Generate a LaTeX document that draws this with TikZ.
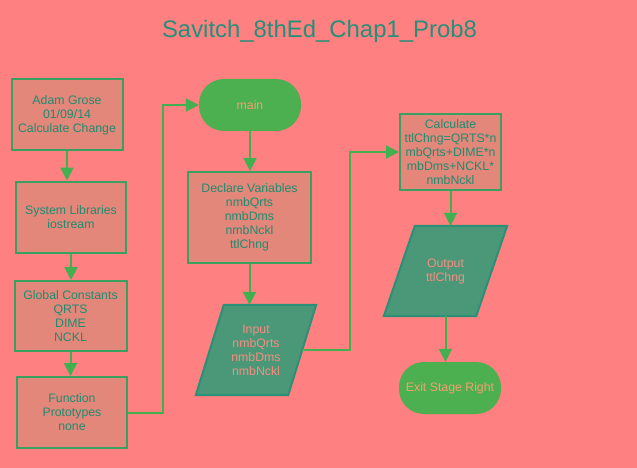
\documentclass[tikz,border=0pt]{standalone}
\usepackage{fontspec}
\setmainfont{Liberation Sans}
\usetikzlibrary{arrows.meta,calc}
\definecolor{bg}{HTML}{FF8080}
\definecolor{boxfill}{HTML}{E2877A}
\definecolor{boxline}{HTML}{3AA060}
\definecolor{boxtext}{HTML}{1F8C70}
\definecolor{parafill}{HTML}{4A9878}
\definecolor{paraline}{HTML}{2A9078}
\definecolor{paratext}{HTML}{F88C80}
\definecolor{termfill}{HTML}{4CAF50}
\definecolor{termtext}{HTML}{F4A070}
\definecolor{linkcol}{HTML}{40B050}
\definecolor{titlecol}{HTML}{23907A}
\pgfdeclarelayer{back}
\pgfsetlayers{back,main}
\tikzset{
  x=1pt,y=-1pt,
  procbox/.style={draw=boxline,line width=2pt,fill=boxfill,text=boxtext,
    font=\fontsize{12.3}{14}\selectfont,align=center,inner sep=0pt},
  termbox/.style={fill=termfill,text=termtext,rounded corners=25pt,
    font=\fontsize{12.3}{14}\selectfont,align=center,inner sep=0pt,
    minimum width=102pt,minimum height=52pt},
  iobox/.style={text=paratext,font=\fontsize{12.3}{14}\selectfont,align=center,
    inner sep=0pt,minimum height=90pt,minimum width=92pt},
  ioshape/.style={draw=paraline,line width=2pt,fill=parafill,line join=miter},
  link/.style={draw=linkcol,line width=2pt,-{Triangle[length=13pt,width=13pt]}},
  titletext/.style={text=titlecol,font=\fontsize{23.9}{28}\selectfont,inner sep=0pt}
}
\begin{document}
\begin{tikzpicture}
\begin{pgfonlayer}{back}
\fill[bg] (0,0) rectangle (637,468);
\end{pgfonlayer}
\useasboundingbox (0,0) rectangle (637,468);
\node[titletext] (title) at (319.5,31) {Savitch\_8thEd\_Chap1\_Prob8};

\node[procbox,minimum width=111pt,minimum height=71pt] (hdr) at (67,115) {Adam Grose\\01/09/14\\Calculate Change};
\node[procbox,minimum width=110pt,minimum height=71pt] (lib) at (71,217) {System Libraries\\iostream};
\node[procbox,minimum width=112pt,minimum height=70pt] (glob) at (70.5,316) {Global Constants\\QRTS\\DIME\\NCKL};
\node[procbox,minimum width=110pt,minimum height=71pt] (proto) at (72,412.5) {Function\\Prototypes\\none};

\node[termbox] (main) at (250,105) {main};
\node[procbox,minimum width=123pt,minimum height=91pt] (decl) at (249.5,217.5) {Declare Variables\\nmbQrts\\nmbDms\\nmbNckl\\ttlChng};
\node[iobox] (inp) at (256,350) {Input\\nmbQrts\\nmbDms\\nmbNckl};

\node[procbox,minimum width=101pt,minimum height=76pt] (calc) at (450.5,152) {Calculate\\ttlChng=QRTS*n\\mbQrts+DIME*n\\mbDms+NCKL*\\nmbNckl};
\node[iobox] (outp) at (445.5,271) {Output\\ttlChng};
\node[termbox] (exit) at (450,388) {Exit Stage Right};

\begin{pgfonlayer}{back}
\draw[ioshape] ($(inp.north west)+(14,0)$) -- ($(inp.north east)+(14,0)$)
  -- ($(inp.south east)+(-14,0)$) -- ($(inp.south west)+(-14,0)$) -- cycle;
\draw[ioshape] ($(outp.north west)+(15.5,0)$) -- ($(outp.north east)+(15.5,0)$)
  -- ($(outp.south east)+(-15.5,0)$) -- ($(outp.south west)+(-15.5,0)$) -- cycle;
\end{pgfonlayer}

\coordinate (pr1) at (163,0);
\coordinate (ir1) at (350,0);

\draw[link] (hdr.south) -- (hdr.south |- lib.north);
\draw[link] (lib.south) -- (lib.south |- glob.north);
\draw[link] (glob.south) -- (glob.south |- proto.north);
\draw[link] (proto.east) -- (pr1 |- proto.east) -- (pr1 |- main.west) -- (main.west);
\draw[link] (main.south) -- (main.south |- decl.north);
\draw[link] (decl.south) -- (decl.south |- inp.north);
\draw[link] (inp.east) -- (ir1 |- inp.east) -- (ir1 |- calc.west) -- (calc.west);
\draw[link] (calc.south) -- (calc.south |- outp.north);
\draw[link] (outp.south) -- (outp.south |- exit.north);
\end{tikzpicture}
\end{document}
